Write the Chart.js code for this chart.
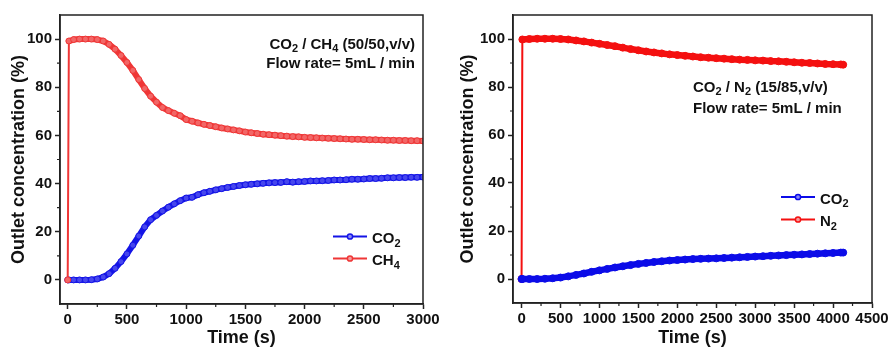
<!DOCTYPE html>
<html>
<head>
<meta charset="utf-8">
<script src="https://cdn.jsdelivr.net/npm/chart.js@4.4.1/dist/chart.umd.min.js"></script>
<style>
  html, body { margin: 0; padding: 0; background: #fff; }
  #wrap { position: relative; width: 891px; height: 350px; }
  .panel { position: absolute; top: 0; height: 350px; }
  #p1 { left: 0; width: 445px; }
  #p2 { left: 445px; width: 446px; }
</style>
</head>
<body>
<div id="wrap">
  <div class="panel" id="p1"><canvas id="ch4Chart"></canvas></div>
  <div class="panel" id="p2"><canvas id="n2Chart"></canvas></div>
</div>
<script>
// CO2 / CH4 (50/50) breakthrough run, time in s, outlet concentration in %
const timeA = [0, 10, 50, 100, 150, 200, 250, 300, 350, 400, 450, 500, 550, 600, 650, 700, 750, 800, 850, 900,
  950, 1000, 1050, 1100, 1150, 1200, 1250, 1300, 1350, 1400, 1450, 1500, 1550, 1600, 1650, 1700, 1750, 1800,
  1850, 1900, 1950, 2000, 2050, 2100, 2150, 2200, 2250, 2300, 2350, 2400, 2450, 2500, 2550, 2600, 2650, 2700,
  2750, 2800, 2850, 2900, 2950, 3000];
const co2A = [0, 0, 0, 0, 0, 0.1, 0.4, 1.2, 2.6, 4.8, 7.6, 10.8, 14.4, 18.2, 22, 25, 26.8, 28.6, 30.2, 31.6,
  32.9, 34, 34.3, 35.4, 36.2, 36.8, 37.4, 37.9, 38.4, 38.8, 39.2, 39.5, 39.7, 39.9, 40.1, 40.3, 40.4, 40.5,
  40.8, 40.6, 40.8, 40.9, 41.1, 41.1, 41.2, 41.3, 41.5, 41.5, 41.6, 41.8, 41.8, 41.9, 42.1, 42.1, 42.2, 42.4,
  42.4, 42.5, 42.5, 42.6, 42.6, 42.7];
const ch4A = [0, 99.2, 99.8, 100, 100, 100, 99.8, 99.2, 97.8, 95.8, 93.2, 90.3, 87, 83.2, 79.5, 76.3, 73.8, 71.6, 70.3, 69.2,
  68.2, 66.6, 65.9, 65.2, 64.6, 64.1, 63.6, 63.1, 62.7, 62.3, 61.9, 61.4, 61.1, 60.8, 60.5, 60.3, 60.1, 59.9,
  59.7, 59.5, 59.4, 59.2, 59.1, 59, 58.9, 58.8, 58.7, 58.6, 58.5, 58.4, 58.4, 58.3, 58.2, 58.2, 58.1, 58,
  58, 57.9, 57.9, 57.8, 57.8, 57.7];

// CO2 / N2 (15/85) breakthrough run
const timeB = [0, 10, 100, 200, 300, 400, 500, 600, 700, 800, 900, 1000, 1100, 1200, 1300, 1400, 1500, 1600,
  1700, 1800, 1900, 2000, 2100, 2200, 2300, 2400, 2500, 2600, 2700, 2800, 2900, 3000, 3100, 3200, 3300, 3400,
  3500, 3600, 3700, 3800, 3900, 4000, 4100, 4130];
const co2B = [0, 0, 0, 0, 0.1, 0.3, 0.6, 1.1, 1.7, 2.3, 3, 3.6, 4.2, 4.8, 5.3, 5.8, 6.3, 6.7,
  7.1, 7.4, 7.7, 7.9, 8.1, 8.3, 8.4, 8.5, 8.6, 8.75, 8.9, 9.05, 9.2, 9.35, 9.5, 9.65, 9.8, 9.95,
  10.1, 10.25, 10.4, 10.55, 10.7, 10.85, 11, 11];
const n2B = [0, 99.8, 100, 100.1, 100.1, 100.1, 100, 99.8, 99.4, 99, 98.5, 98, 97.5, 97, 96.4, 95.8, 95.3, 94.8,
  94.4, 94, 93.6, 93.3, 93, 92.7, 92.4, 92.2, 92, 91.8, 91.6, 91.4, 91.3, 91.1, 91, 90.8, 90.7, 90.5,
  90.3, 90.1, 90, 89.8, 89.6, 89.5, 89.4, 89.3];

const xTicksA = [0, 500, 1000, 1500, 2000, 2500, 3000];
const xTicksB = [0, 500, 1000, 1500, 2000, 2500, 3000, 3500, 4000, 4500];
const yTicks = [0, 20, 40, 60, 80, 100];

const FONT = '"Liberation Sans", Arial, sans-serif';

const pts = (xs, ys) => xs.map((x, i) => ({ x: x, y: ys[i] }));
const mids = arr => arr.slice(1).map((v, i) => (v + arr[i]) / 2);

// text with "_2" style subscripts, y is the baseline
function richText(ctx, str, x, y, size, align) {
  const parts = str.split(/_(\d)/);
  const big = 'bold ' + size + 'px ' + FONT;
  const small = 'bold ' + Math.round(size * 0.7) + 'px ' + FONT;
  let w = 0;
  parts.forEach((p, i) => { ctx.font = i % 2 ? small : big; w += ctx.measureText(p).width; });
  let cx = align === 'right' ? x - w : x;
  ctx.textAlign = 'left';
  ctx.textBaseline = 'alphabetic';
  parts.forEach((p, i) => {
    ctx.font = i % 2 ? small : big;
    ctx.fillText(p, cx, i % 2 ? y + size * 0.25 : y);
    cx += ctx.measureText(p).width;
  });
}

// frame, minor ticks, notes and legend
const decor = {
  id: 'decor',
  afterDatasetsDraw(chart, args, opts) {
    const { ctx, chartArea: a, scales } = chart;
    ctx.save();
    ctx.strokeStyle = '#222';
    ctx.lineWidth = 1.5;
    ctx.strokeRect(a.left, a.top, a.right - a.left, a.bottom - a.top);

    ctx.lineWidth = 1.2;
    ctx.beginPath();
    opts.minorX.forEach(v => {
      const px = scales.x.getPixelForValue(v);
      ctx.moveTo(px, a.bottom); ctx.lineTo(px, a.bottom + 3);
    });
    opts.minorY.forEach(v => {
      const py = scales.y.getPixelForValue(v);
      ctx.moveTo(a.left, py); ctx.lineTo(a.left - 3, py);
    });
    ctx.stroke();

    ctx.fillStyle = '#111';
    opts.notes.forEach(n => richText(ctx, n.text, n.x, n.y, 15, n.align));

    const lg = opts.legend;
    lg.items.forEach((it, i) => {
      const y = lg.y + i * lg.gap;
      ctx.strokeStyle = it.color;
      ctx.lineWidth = 2;
      ctx.beginPath(); ctx.moveTo(lg.x, y); ctx.lineTo(lg.x + lg.len, y); ctx.stroke();
      ctx.fillStyle = it.fill;
      ctx.lineWidth = 1.5;
      ctx.beginPath(); ctx.arc(lg.x + lg.len / 2, y, 2.6, 0, Math.PI * 2); ctx.fill(); ctx.stroke();
      ctx.fillStyle = '#111';
      richText(ctx, it.label, lg.x + lg.len + 5, y + 6.5, 15, 'left');
    });
    ctx.restore();
  }
};

function makeChart(id, cfg) {
  const tickFont = { family: FONT, size: 15, weight: 'bold' };
  const titleFont = { family: FONT, size: 18, weight: 'bold' };
  return new Chart(document.getElementById(id), {
    type: 'line',
    data: { datasets: cfg.datasets },
    plugins: [decor],
    options: {
      responsive: true,
      maintainAspectRatio: false,
      animation: false,
      layout: { padding: { top: 15, right: cfg.padRight, left: 0, bottom: 0 } },
      elements: { line: { tension: 0 } },
      scales: {
        x: {
          type: 'linear',
          min: cfg.xMin,
          max: cfg.xMax,
          afterBuildTicks: s => { s.ticks = cfg.xTicks.map(v => ({ value: v })); },
          afterFit: s => { s.height = cfg.xHeight; },
          grid: { drawOnChartArea: false, tickLength: 5, color: '#222', tickWidth: 1.5 },
          border: { display: true, color: '#222', width: 1.5 },
          ticks: { font: tickFont, color: '#111', padding: 2, maxRotation: 0, autoSkip: false,
            callback: v => String(v) },
          title: { display: true, text: 'Time (s)', font: titleFont, color: '#111', padding: { top: 0, bottom: 1 } }
        },
        y: {
          min: -10,
          max: 110,
          afterBuildTicks: s => { s.ticks = yTicks.map(v => ({ value: v })); },
          afterFit: s => { s.width = cfg.yWidth; },
          grid: { drawOnChartArea: false, tickLength: 5, color: '#222', tickWidth: 1.5 },
          border: { display: true, color: '#222', width: 1.5 },
          ticks: { font: tickFont, color: '#111', padding: 3, callback: v => String(v) },
          title: { display: true, text: 'Outlet concentration (%)', font: titleFont, color: '#111',
            padding: { top: cfg.yTitlePad, bottom: 0 } }
        }
      },
      plugins: {
        legend: { display: false },
        tooltip: { enabled: false },
        decor: {
          minorX: mids(cfg.xTicks),
          minorY: mids(yTicks),
          notes: cfg.notes,
          legend: cfg.legend
        }
      }
    }
  });
}

// thin first segment for the step at t = 0, thick band for the rest
function series(label, data, color, fill, wide, radius) {
  return {
    label: label,
    data: data,
    borderColor: color,
    backgroundColor: color,
    borderWidth: 2,
    borderJoinStyle: 'round',
    borderCapStyle: 'round',
    segment: { borderWidth: ctx => (ctx.p0DataIndex === 0 ? 2 : wide) },
    pointRadius: radius,
    pointBorderWidth: 1,
    pointBorderColor: color,
    pointBackgroundColor: fill,
    pointHoverRadius: radius
  };
}

makeChart('ch4Chart', {
  xMin: -65, xMax: 3000, xTicks: xTicksA,
  padRight: 22, xHeight: 46, yWidth: 60, yTitlePad: 8,
  datasets: [
    series('CH4', pts(timeA, ch4A), '#ef3636', '#f26666', 6, 3),
    series('CO2', pts(timeA, co2A), '#1414e6', '#4646ee', 6, 3)
  ],
  notes: [
    { text: 'CO_2 / CH_4 (50/50,v/v)', x: 415, y: 48.5, align: 'right' },
    { text: 'Flow rate= 5mL / min', x: 415, y: 67.5, align: 'right' }
  ],
  legend: {
    x: 333, y: 236.5, gap: 22, len: 34,
    items: [
      { label: 'CO_2', color: '#1414e6', fill: '#8a8af5' },
      { label: 'CH_4', color: '#ef3636', fill: '#f59a9a' }
    ]
  }
});

// CO2 listed first here so its marker sits over the N2 step at t = 0
makeChart('n2Chart', {
  xMin: -110, xMax: 4500, xTicks: xTicksB,
  padRight: 19, xHeight: 47, yWidth: 68, yTitlePad: 12.5,
  datasets: [
    series('CO2', pts(timeB, co2B), '#0c0ce8', '#0c0ce8', 6.5, 3.5),
    series('N2', pts(timeB, n2B), '#f41010', '#f41010', 6.5, 3.5)
  ],
  notes: [
    { text: 'CO_2 / N_2 (15/85,v/v)', x: 248, y: 91.5, align: 'left' },
    { text: 'Flow rate= 5mL / min', x: 248, y: 112.8, align: 'left' }
  ],
  legend: {
    x: 336, y: 197, gap: 22.5, len: 34,
    items: [
      { label: 'CO_2', color: '#0c0ce8', fill: '#8a8af5' },
      { label: 'N_2', color: '#f41010', fill: '#f59a9a' }
    ]
  }
});
</script>
</body>
</html>
